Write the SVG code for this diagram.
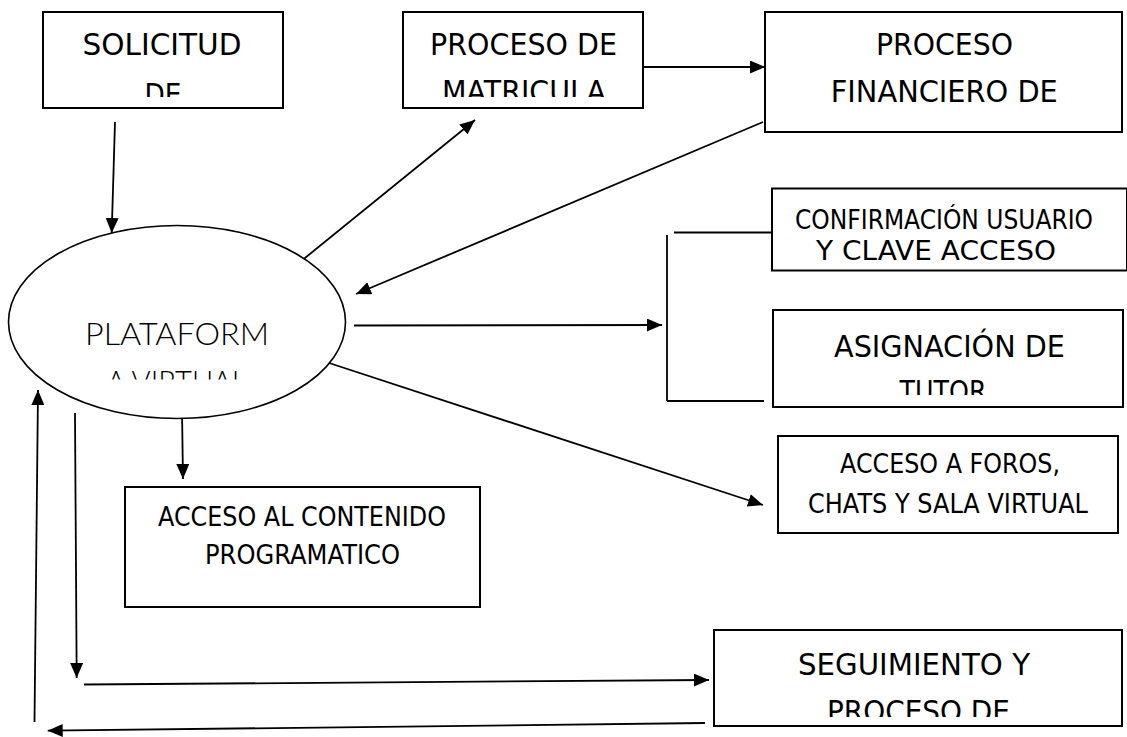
<svg xmlns="http://www.w3.org/2000/svg" width="1127" height="737" viewBox="0 0 1127 737">
<style>
.box{fill:#fff;stroke:#000;stroke-width:2}
.t{font-family:"DejaVu Sans","Liberation Sans",sans-serif;fill:#000;text-anchor:middle;lengthAdjust:spacingAndGlyphs}
.big{font-size:30px}
.sm{font-size:26px}
.ell{font-family:Lato,"Liberation Sans",sans-serif;font-weight:300;font-size:32px;fill:#000;text-anchor:middle}
.c{fill:none;stroke:#000;stroke-width:1.8}
</style>
<defs>
<marker id="ah" markerUnits="userSpaceOnUse" markerWidth="15" markerHeight="13" refX="15" refY="6.5" orient="auto">
<path d="M0,0 L15,6.5 L0,13 z" fill="#000"/>
</marker>
<clipPath id="c1"><rect x="44" y="13" width="238" height="84"/></clipPath>
<clipPath id="c2"><rect x="404" y="13" width="238" height="84"/></clipPath>
<clipPath id="c3"><rect x="0" y="220" width="360" height="159.5"/></clipPath>
<clipPath id="c4"><rect x="774" y="311" width="348" height="84"/></clipPath>
<clipPath id="c5"><rect x="714" y="631" width="408" height="86"/></clipPath>
</defs>
<g id="connectors">
<line class="c" x1="115" y1="122" x2="111.7" y2="233" marker-end="url(#ah)"/>
<line class="c" x1="300" y1="262" x2="475" y2="120" marker-end="url(#ah)"/>
<line class="c" x1="643" y1="67" x2="765" y2="67" marker-end="url(#ah)"/>
<line class="c" x1="763" y1="122" x2="356" y2="294" marker-end="url(#ah)"/>
<line class="c" x1="354" y1="325.5" x2="662" y2="325" marker-end="url(#ah)"/>
<line class="c" x1="674" y1="232.5" x2="771" y2="232.5"/>
<line class="c" x1="667" y1="235" x2="667" y2="401"/>
<line class="c" x1="667" y1="401" x2="764" y2="401"/>
<line class="c" x1="323" y1="361" x2="763" y2="505" marker-end="url(#ah)"/>
<line class="c" x1="182" y1="411" x2="183" y2="479" marker-end="url(#ah)"/>
<line class="c" x1="75" y1="413" x2="76.7" y2="678" marker-end="url(#ah)"/>
<line class="c" x1="84" y1="684.5" x2="709" y2="680" marker-end="url(#ah)"/>
<line class="c" x1="705" y1="723" x2="47.7" y2="730.7" marker-end="url(#ah)"/>
<line class="c" x1="34.5" y1="722" x2="38" y2="390" marker-end="url(#ah)"/>
</g>
<g id="solicitud">
<rect class="box" x="43" y="12" width="240" height="96"/>
<g clip-path="url(#c1)">
<text class="t big" x="162" y="54.5" textLength="159" lengthAdjust="spacingAndGlyphs">SOLICITUD</text>
<text class="t big" x="163" y="105" textLength="37" lengthAdjust="spacingAndGlyphs">DE</text>
</g>
</g>
<g id="matricula">
<rect class="box" x="403" y="12" width="240" height="96"/>
<g clip-path="url(#c2)">
<text class="t big" x="523.5" y="55" textLength="187" lengthAdjust="spacingAndGlyphs">PROCESO DE</text>
<text class="t big" x="524" y="102" textLength="164" lengthAdjust="spacingAndGlyphs">MATRICULA</text>
</g>
</g>
<g id="financiero">
<rect class="box" x="765" y="12" width="357" height="120"/>
<text class="t big" x="944.5" y="55" textLength="137" lengthAdjust="spacingAndGlyphs">PROCESO</text>
<text class="t big" x="944.3" y="101.7" textLength="227" lengthAdjust="spacingAndGlyphs">FINANCIERO DE</text>
</g>
<g id="plataforma">
<ellipse cx="177" cy="322" rx="168.5" ry="96.5" fill="#fff" stroke="#000" stroke-width="1.6"/>
<g clip-path="url(#c3)">
<text class="ell" x="177" y="345" textLength="184" lengthAdjust="spacingAndGlyphs">PLATAFORM</text>
<text class="ell" x="176.5" y="393" textLength="140" lengthAdjust="spacingAndGlyphs">A VIRTUAL</text>
</g>
</g>
<g id="confirmacion">
<rect class="box" x="772" y="188.5" width="355" height="82"/>
<text class="t sm" x="944" y="229" textLength="298" lengthAdjust="spacingAndGlyphs">CONFIRMACIÓN USUARIO</text>
<text class="t sm" x="936" y="260" textLength="240" lengthAdjust="spacingAndGlyphs">Y CLAVE ACCESO</text>
</g>
<g id="asignacion">
<rect class="box" x="773" y="310" width="350" height="97"/>
<g clip-path="url(#c4)">
<text class="t big" x="949.5" y="356.7" textLength="231" lengthAdjust="spacingAndGlyphs">ASIGNACIÓN DE</text>
<text class="t big" x="943" y="402" textLength="87" lengthAdjust="spacingAndGlyphs">TUTOR</text>
</g>
</g>
<g id="contenido">
<rect class="box" x="125" y="487" width="355" height="120"/>
<text class="t sm" x="302" y="526" textLength="288" lengthAdjust="spacingAndGlyphs">ACCESO AL CONTENIDO</text>
<text class="t sm" x="302.5" y="564" textLength="195" lengthAdjust="spacingAndGlyphs">PROGRAMATICO</text>
</g>
<g id="foros">
<rect class="box" x="778" y="436" width="340" height="97"/>
<text class="t sm" x="950" y="473.3" textLength="220" lengthAdjust="spacingAndGlyphs">ACCESO A FOROS,</text>
<text class="t sm" x="948" y="512.7" textLength="280" lengthAdjust="spacingAndGlyphs">CHATS Y SALA VIRTUAL</text>
</g>
<g id="seguimiento">
<rect class="box" x="714" y="630" width="408" height="96"/>
<g clip-path="url(#c5)">
<text class="t big" x="914" y="675" textLength="232" lengthAdjust="spacingAndGlyphs">SEGUIMIENTO Y</text>
<text class="t big" x="918.5" y="722" textLength="183" lengthAdjust="spacingAndGlyphs">PROCESO DE</text>
</g>
</g>
</svg>
